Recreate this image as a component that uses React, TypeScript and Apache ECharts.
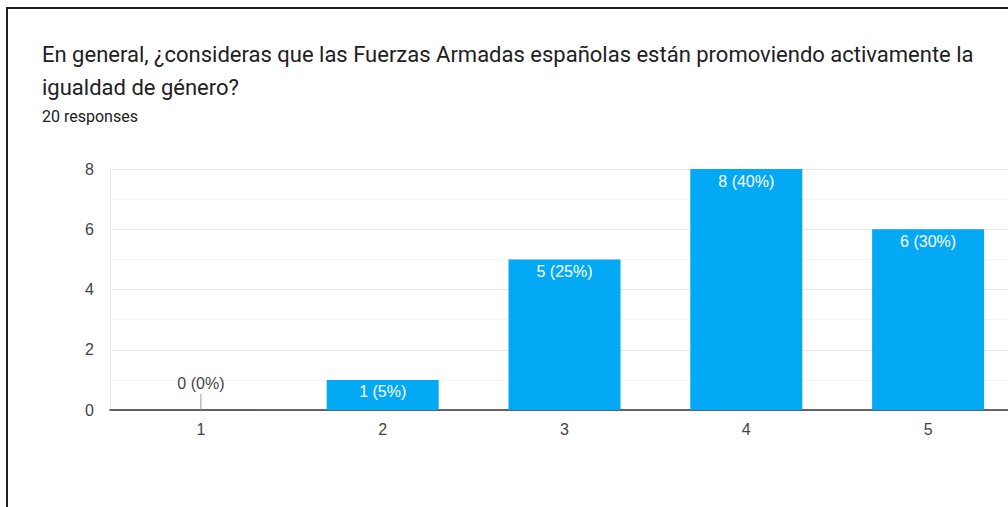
import React, { useEffect, useRef } from "react";
import * as echarts from "echarts";

const categories = ["1", "2", "3", "4", "5"];
const counts = [0, 1, 5, 8, 6];
const totalResponses = 20;
const yTicks = [0, 2, 4, 6, 8];

const titleLine1 =
  "En general, ¿consideras que las Fuerzas Armadas españolas están promoviendo activamente la";
const titleLine2 = "igualdad de género?";
const subtitle = `${totalResponses} responses`;

export default function App() {
  const ref = useRef<HTMLDivElement>(null);
  useEffect(() => {
    if (!ref.current) return;
    const chart = echarts.init(ref.current, undefined, { renderer: "svg" });
    const labelText = (v: number) =>
      `${v} (${Math.round((v / totalResponses) * 100)}%)`;
    const axisFont = '"Liberation Sans", Arial, sans-serif';
    chart.setOption({
      animation: false,
      backgroundColor: "#ffffff",
      grid: {
        left: 110,
        top: 169,
        width: 909,
        height: 241,
        outerBoundsMode: "none",
        containLabel: false,
      },
      graphic: [
        {
          type: "rect",
          shape: { x: 7, y: 8, width: 1020, height: 520 },
          style: { fill: "none", stroke: "#1f1f1f", lineWidth: 2 },
          silent: true,
        },
        {
          type: "text",
          x: 42,
          y: 43,
          style: {
            text: titleLine1,
            font: '22px Roboto, "Noto Sans", sans-serif',
            fill: "#202124",
          },
        },
        {
          type: "text",
          x: 42,
          y: 76,
          style: {
            text: titleLine2,
            font: '22px Roboto, "Noto Sans", sans-serif',
            fill: "#202124",
          },
        },
        {
          type: "text",
          x: 42,
          y: 108,
          style: {
            text: subtitle,
            font: '16px Roboto, "Noto Sans", sans-serif',
            fill: "#202124",
          },
        },
      ],
      xAxis: {
        type: "category",
        data: categories,
        axisTick: { show: false },
        axisLine: { lineStyle: { color: "#333333", width: 1.5 } },
        axisLabel: {
          color: "#444444",
          fontSize: 16,
          fontFamily: axisFont,
          margin: 11,
        },
        splitLine: { show: false },
      },
      yAxis: {
        type: "value",
        min: 0,
        max: 8,
        interval: 2,
        axisLine: { show: true, lineStyle: { color: "#ebebeb", width: 1 } },
        axisTick: { show: false },
        axisLabel: {
          color: "#444444",
          fontSize: 16,
          fontFamily: axisFont,
          margin: 16,
          customValues: yTicks,
        },
        splitLine: { lineStyle: { color: "#e6e6e6", width: 1 } },
        minorTick: { show: false, splitNumber: 2 },
        minorSplitLine: { show: true, lineStyle: { color: "#f3f3f3", width: 1 } },
      },
      series: [
        {
          type: "bar",
          barWidth: 112,
          itemStyle: { color: "#03a9f4" },
          data: counts.map((v) =>
            v === 0
              ? {
                  value: v,
                  label: {
                    show: true,
                    position: "top",
                    distance: 19,
                    color: "#444444",
                  },
                }
              : { value: v }
          ),
          label: {
            show: true,
            position: "insideTop",
            distance: 4,
            color: "#ffffff",
            fontSize: 16,
            fontFamily: axisFont,
            formatter: (p: any) => labelText(p.value),
          },
          z: 3,
        },
        {
          type: "custom",
          silent: true,
          z: 4,
          data: counts.map((v, i) => [i, v]),
          renderItem: (params: any, api: any) => {
            const v = api.value(1);
            if (v !== 0) return null;
            const p = api.coord([api.value(0), 0]);
            return {
              type: "line",
              shape: { x1: p[0], y1: p[1], x2: p[0], y2: p[1] - 16 },
              style: { stroke: "#999999", lineWidth: 1 },
            };
          },
        },
      ],
    });
    return () => chart.dispose();
  }, []);
  return (
    <div
      ref={ref}
      style={{
        position: "fixed",
        left: 0,
        top: 0,
        width: 1008,
        height: 507,
        overflow: "hidden",
      }}
    />
  );
}
